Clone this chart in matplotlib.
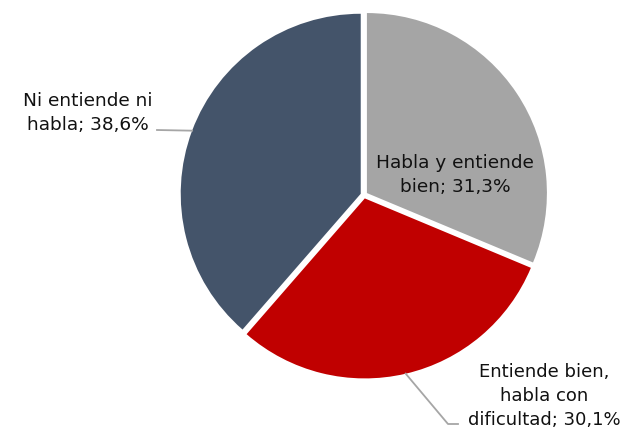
import numpy as np
import matplotlib.pyplot as plt

labels = ["Habla y entiende\nbien", "Entiende bien,\nhabla con\ndificultad", "Ni entiende ni\nhabla"]
values = [31.3, 30.1, 38.6]
colors = ["#A5A5A5", "#C00000", "#44546A"]

fig = plt.figure(figsize=(6.28, 4.30), dpi=100)
ax = fig.add_axes([0, 0, 1, 1])

cx, cy, r = 364, 235, 180
wedges, _ = ax.pie(values, colors=colors, startangle=90, counterclock=False,
                   center=(cx, cy), radius=r, explode=[3.5] * 3, frame=True,
                   wedgeprops=dict(linewidth=0))
ax.set_xlim(0, 628)
ax.set_ylim(0, 430)
ax.set_aspect("equal")
ax.axis("off")

texts = [f"{l}; {v:.1f}%".replace(".", ",") for l, v in zip(labels, values)]
fs = 13.3
ls = 1.4

# label inside grey slice
ax.text(455, 430 - 175, texts[0], ha="center", va="center", fontsize=fs,
        color="#111111", linespacing=ls)

# red slice label with leader
w = wedges[1]
mid = np.deg2rad((w.theta1 + w.theta2) / 2)
x0 = w.center[0] + r * np.cos(mid)
y0 = w.center[1] + r * np.sin(mid)
ax.plot([x0, 448, 458], [y0, 430 - 424, 430 - 424], color="#A6A6A6", lw=1.3)
ax.text(544, 430 - 396, texts[1], ha="center", va="center", fontsize=13,
        color="#111111", linespacing=ls)

# blue slice label with leader
w = wedges[2]
mid = np.deg2rad((w.theta1 + w.theta2) / 2)
x0 = w.center[0] + r * np.cos(mid)
y0 = w.center[1] + r * np.sin(mid)
ax.plot([157, x0], [430 - 130, y0], color="#A6A6A6", lw=1.3)
ax.text(88, 430 - 113, texts[2], ha="center", va="center", fontsize=fs,
        color="#111111", linespacing=ls)

fig.savefig("out.png", dpi=100)
